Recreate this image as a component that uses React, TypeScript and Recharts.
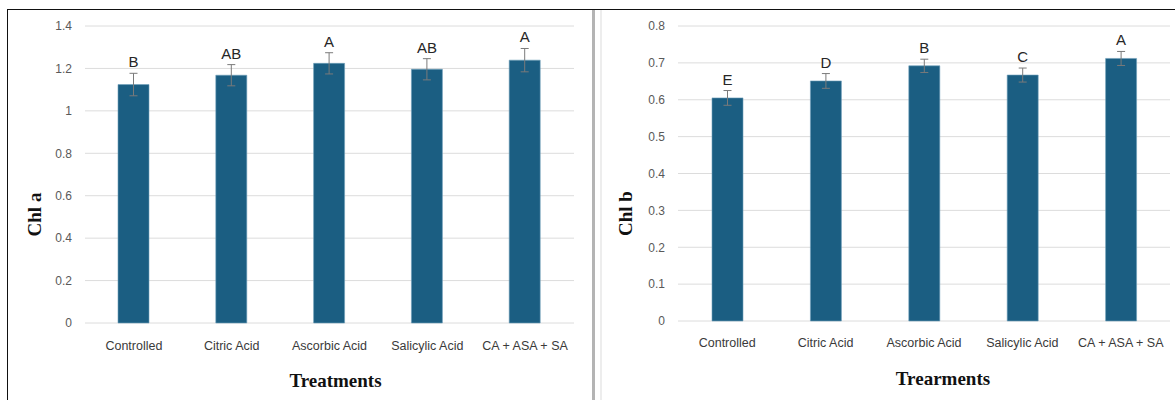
import React from "react";
import { Bar, BarChart, CartesianGrid, ErrorBar, Label, LabelList, XAxis, YAxis } from "recharts";

const treatments = ["Controlled", "Citric Acid", "Ascorbic Acid", "Salicylic Acid", "CA + ASA + SA"];

const chlA = [1.124, 1.168, 1.224, 1.196, 1.239];
const chlAErr = [0.053, 0.05, 0.05, 0.05, 0.055];
const chlALetters = ["B", "AB", "A", "AB", "A"];
const chlATicks = [0, 0.2, 0.4, 0.6, 0.8, 1, 1.2, 1.4];

const chlB = [0.605, 0.651, 0.692, 0.667, 0.712];
const chlBErr = [0.02, 0.02, 0.018, 0.019, 0.019];
const chlBLetters = ["E", "D", "B", "C", "A"];
const chlBTicks = [0, 0.1, 0.2, 0.3, 0.4, 0.5, 0.6, 0.7, 0.8];

const BAR_FILL = "#1b5e82";
const SANS = '"Liberation Sans", Arial, sans-serif';
const SERIF = '"Liberation Serif", "Times New Roman", serif';

type Row = { name: string; mean: number; err: number; letter: string };

const rows = (means: number[], errs: number[], letters: string[]): Row[] =>
  treatments.map((name, i) => ({ name, mean: means[i], err: errs[i], letter: letters[i] }));

// rotated axis title, nudged from the centre of the axis box
const yTitle = (dx: number, dy: number) => (props: any) => {
  const { viewBox, value } = props;
  const cx = viewBox.x + viewBox.width / 2 + dx;
  const cy = viewBox.y + viewBox.height / 2 + dy;
  return (
    <text
      x={cx}
      y={cy}
      transform={`rotate(-90 ${cx} ${cy})`}
      textAnchor="middle"
      dominantBaseline="central"
      fontFamily={SERIF}
      fontWeight="bold"
      fontSize={19}
      fill="#111"
    >
      {value}
    </text>
  );
};

const xTitle = (dx: number, top: number) => (props: any) => {
  const { viewBox, value } = props;
  return (
    <text
      x={viewBox.x + viewBox.width / 2 + dx}
      y={viewBox.y + viewBox.height + top}
      textAnchor="middle"
      dominantBaseline="hanging"
      fontFamily={SERIF}
      fontWeight="bold"
      fontSize={19}
      fill="#111"
    >
      {value}
    </text>
  );
};

type PanelProps = {
  width: number;
  margin: { top: number; right: number; bottom: number; left: number };
  yWidth: number;
  data: Row[];
  ticks: number[];
  yLabel: string;
  xLabel: string;
  yShift: [number, number];
  xShift: number;
  tickGap: number;
};

function Panel({ width, margin, yWidth, data, ticks, yLabel, xLabel, yShift, xShift, tickGap }: PanelProps) {
  return (
    <BarChart width={width} height={400} data={data} margin={margin} barCategoryGap="34%">
      <CartesianGrid vertical={false} stroke="#dcdcdc" />
      <XAxis
        dataKey="name"
        axisLine={false}
        tickLine={false}
        height={30}
        tickMargin={tickGap}
        interval={0}
        tick={{ fontSize: 12.5, fill: "#3a3a3a", fontFamily: SANS }}
      >
        <Label value={xLabel} content={xTitle(xShift, 20)} />
      </XAxis>
      <YAxis
        width={yWidth}
        domain={[ticks[0], ticks[ticks.length - 1]]}
        ticks={ticks}
        axisLine={false}
        tickLine={false}
        tickMargin={7}
        tick={{ fontSize: 12, fill: "#595959", fontFamily: SANS }}
      >
        <Label value={yLabel} content={yTitle(yShift[0], yShift[1])} />
      </YAxis>
      <Bar dataKey="mean" stackId="s" fill={BAR_FILL} stroke="#6f9fba" strokeWidth={0.6} barSize={31} isAnimationActive={false}>
        <ErrorBar dataKey="err" width={4} stroke="#7a7a7a" strokeWidth={1} direction="y" />
      </Bar>
      {/* transparent segment up to the error cap, carries the group letter */}
      <Bar dataKey="err" stackId="s" fill="transparent" barSize={31} isAnimationActive={false}>
        <LabelList dataKey="letter" position="top" offset={6} fill="#262626" fontSize={15} fontFamily={SANS} />
      </Bar>
    </BarChart>
  );
}

export default function App() {
  return (
    <div style={{ position: "absolute", left: 0, top: 0, width: 1175, height: 400, background: "#fff", overflow: "hidden" }}>
      <div style={{ position: "absolute", left: 7, top: 9, width: 1168, height: 391, borderTop: "1.5px solid #111", borderLeft: "1.5px solid #111" }} />
      <div style={{ position: "absolute", left: 592, top: 10, width: 2.5, height: 390, background: "#b4b4b4" }} />
      <div style={{ position: "absolute", left: 600, top: 10, width: 2, height: 390, background: "#ededed" }} />
      <div style={{ position: "absolute", left: 0, top: 0 }}>
        <Panel
          width={592}
          margin={{ top: 26, right: 18, bottom: 47, left: 10 }}
          yWidth={75}
          data={rows(chlA, chlAErr, chlALetters)}
          ticks={chlATicks}
          yLabel="Chl a"
          xLabel="Treatments"
          yShift={[-13, 40]}
          xShift={6}
          tickGap={12}
        />
      </div>
      <div style={{ position: "absolute", left: 600, top: 0 }}>
        <Panel
          width={575}
          margin={{ top: 26, right: 5, bottom: 49, left: 8 }}
          yWidth={70}
          data={rows(chlB, chlBErr, chlBLetters)}
          ticks={chlBTicks}
          yLabel="Chl b"
          xLabel="Trearments"
          yShift={[-18, 40]}
          xShift={19}
          tickGap={11}
        />
      </div>
    </div>
  );
}
